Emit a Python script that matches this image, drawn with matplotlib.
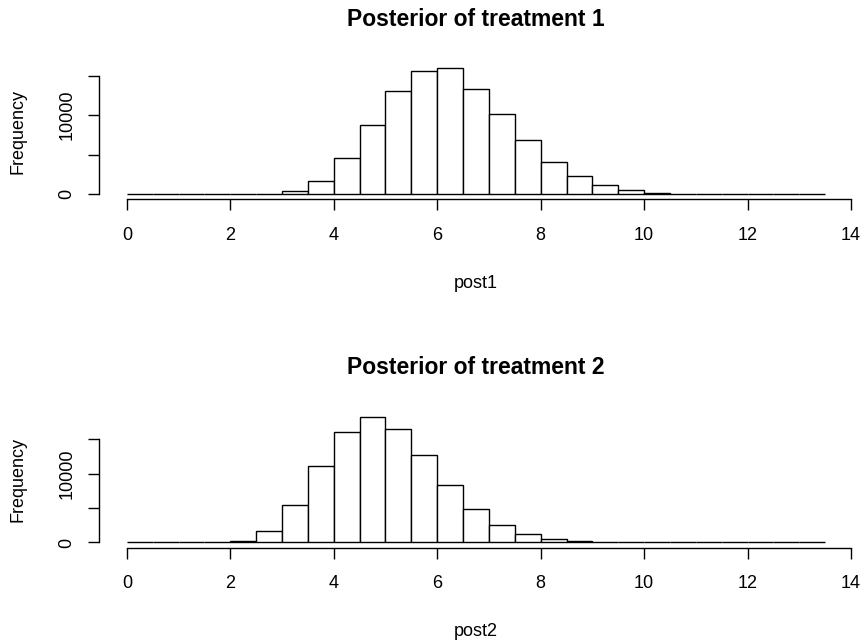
import matplotlib
matplotlib.use('Agg')
import matplotlib.pyplot as plt

plt.rcParams['font.family'] = 'Liberation Sans'

# histogram bins (R style, width 0.5 from 0 to 13.5)
bin_edges = [i * 0.5 for i in range(28)]

# counts
post1_counts = [0, 0, 0, 0, 0, 0, 420, 1680, 4550, 8810, 13060, 15640, 15930, 13370,
                10160, 6830, 4090, 2280, 1230, 590, 170, 0, 0, 0, 0, 0, 0]
post2_counts = [0, 0, 0, 0, 220, 1710, 5440, 11140, 16030, 18250, 16420, 12740, 8390,
                4860, 2500, 1230, 550, 200, 0, 0, 0, 0, 0, 0, 0, 0, 0]

titles = ['Posterior of treatment 1', 'Posterior of treatment 2']
xlabels = ['post1', 'post2']
xticks = [0, 2, 4, 6, 8, 10, 12, 14]
yticks = [0, 5000, 10000, 15000]
ytick_labels = ['0', '', '10000', '']

W, H = 864, 642
fig = plt.figure(figsize=(W / 100, H / 100), dpi=100)

# plot regions in pixels: left, top, right, bottom
boxes = [(99, 63.3, 853, 199.3), (99, 411.7, 853, 547.5)]

for counts, title, xlab, (l, t, r, b) in zip([post1_counts, post2_counts], titles, xlabels, boxes):
    ax = fig.add_axes([l / W, 1 - b / H, (r - l) / W, (b - t) / H])
    ax.bar(bin_edges[:-1], counts, width=0.5, align='edge', color='white',
           edgecolor='black', linewidth=1.0)
    ymax = max(counts)
    ax.set_xlim(-0.04 * 13.5, 13.5 + 0.04 * 13.5)
    ax.set_ylim(-0.04 * ymax, 1.04 * ymax)

    for side in ['top', 'right']:
        ax.spines[side].set_visible(False)
    ax.spines['left'].set_bounds(0, 15000)
    ax.spines['bottom'].set_bounds(0, 14)
    ax.spines['left'].set_linewidth(1.0)
    ax.spines['bottom'].set_linewidth(1.0)

    ax.set_xticks(xticks)
    ax.set_yticks(yticks)
    ax.set_yticklabels(ytick_labels, rotation=90, va='center')
    ax.tick_params(axis='both', length=8, width=1.0, labelsize=13)
    ax.tick_params(axis='x', pad=12)
    ax.tick_params(axis='y', pad=9)

    ax.set_title(title, fontsize=16.5, fontweight='bold', pad=27)
    ax.set_xlabel(xlab, fontsize=13, va='center')
    ax.xaxis.set_label_coords(0.5, -(283 - 199.3) / (b - t))
    ax.set_ylabel('Frequency', fontsize=13, va='center')
    ax.yaxis.set_label_coords(-(l - 18) / (r - l), 0.5)

fig.savefig('out.png', dpi=100)
